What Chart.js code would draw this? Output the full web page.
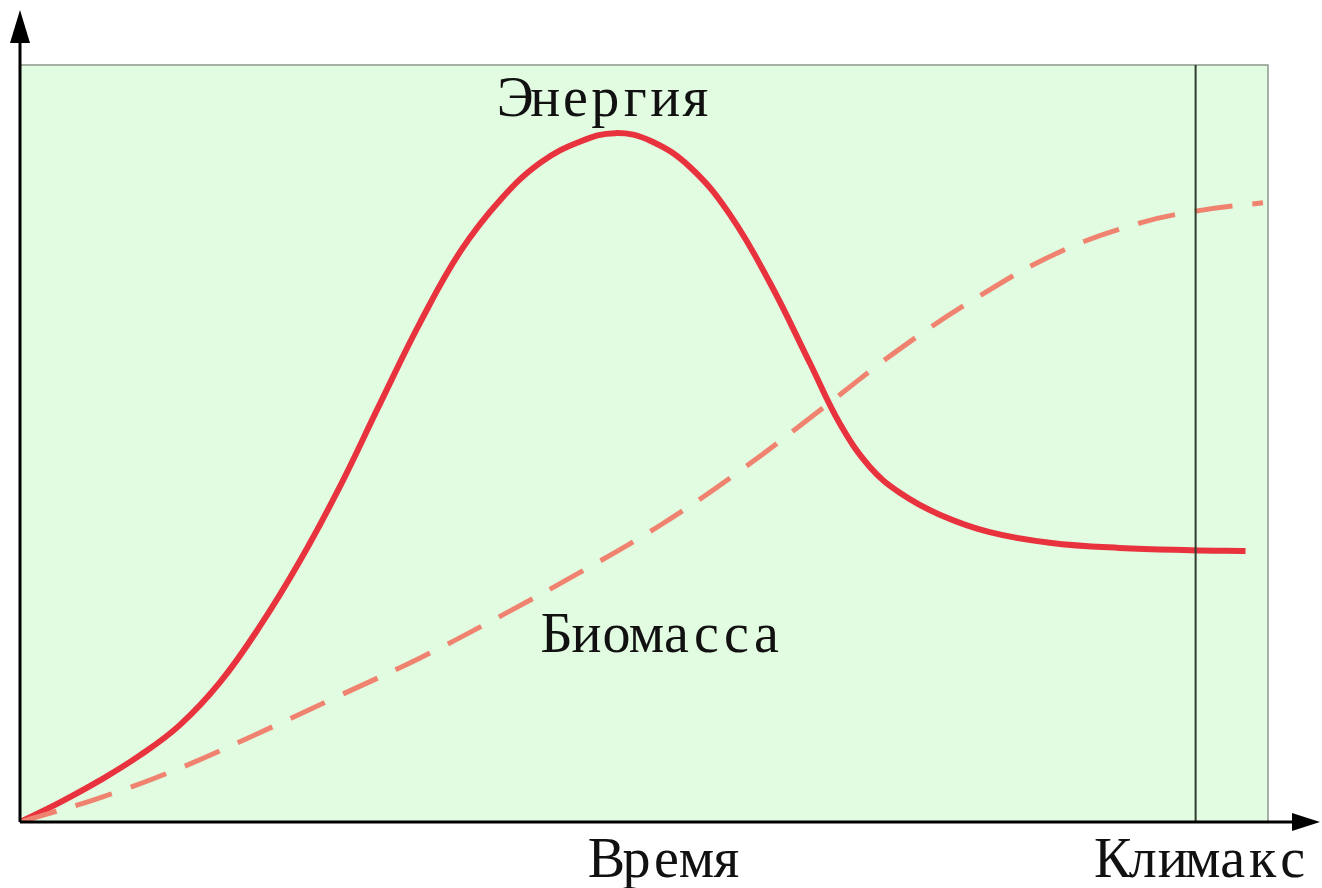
<!DOCTYPE html>
<html lang="ru">
<head>
<meta charset="utf-8">
<title>Энергия и биомасса</title>
<script src="https://cdn.jsdelivr.net/npm/chart.js@4"></script>
<style>
    html, body { margin: 0; padding: 0; background: #ffffff; }
    #wrap { width: 1322px; height: 888px; }
</style>
</head>
<body>
<div id="wrap"><canvas id="successionChart" width="1322" height="888"></canvas></div>
<script>
// Data (time and value both on a 0..100 scale)
const energyTime  = [0, 3.2, 6.4, 9.6, 12.8, 16.0, 19.2, 22.4, 25.6, 28.8, 32.1, 35.3, 38.5, 41.7, 44.9, 47.7,
                     50.5, 53.7, 56.9, 60.1, 63.3, 65.7, 68.1, 70.5, 73.7, 77.7, 82.5, 88.1, 93.8, 98.2];
const energyValue = [0, 2.6, 5.5, 8.8, 12.8, 18.4, 25.8, 34.4, 44.2, 55.1, 66.1, 75.4, 82.2, 87.1, 89.9, 91.0,
                     90.0, 86.5, 80.2, 71.2, 60.6, 52.6, 46.9, 43.5, 40.6, 38.3, 36.9, 36.2, 35.9, 35.8];

const biomassTime  = [0, 6.4, 12.8, 19.2, 25.6, 32.1, 38.5, 44.9, 51.3, 57.7, 64.1, 70.5, 76.9, 83.3, 89.7, 94.6, 99.6];
const biomassValue = [0, 3.2, 7.1, 11.8, 16.7, 21.7, 27.2, 33.0, 39.2, 46.4, 54.4, 62.5, 69.5, 75.3, 79.1, 80.8, 81.8];

// Axis labels and where they sit on the time axis
const climaxTime = 94.2;
const timeLabel = 'Время';
const timeLabelAt = 51.8;
const climaxLabel = 'Климакс';

// Curve captions: [text, time, value]
const energyCaption  = ['Энергия', 46.9, 93.3];
const biomassCaption = ['Биомасса', 51.4, 22.5];

const labelFont = '56px "Liberation Serif", "DejaVu Serif", serif';
const charCell = 30; // the original lettering is monospaced

function toPoints(xs, ys) {
    return xs.map((x, i) => ({ x: x, y: ys[i] }));
}

// draw text centred on x, one character per fixed-width cell
function monoText(ctx, text, x, y) {
    const chars = Array.from(text);
    const start = x - chars.length * charCell / 2;
    chars.forEach((ch, i) => {
        ctx.fillText(ch, start + charCell * i + charCell / 2, y);
    });
}

function arrowHead(ctx, tipX, tipY, dirX, dirY, len, half) {
    // dir is a unit vector pointing to the tip
    const bx = tipX - dirX * len, by = tipY - dirY * len;
    ctx.beginPath();
    ctx.moveTo(tipX, tipY);
    ctx.lineTo(bx - dirY * half, by + dirX * half);
    ctx.lineTo(bx + dirY * half, by - dirX * half);
    ctx.closePath();
    ctx.fill();
}

// Green field behind the curves
const fieldPlugin = {
    id: 'field',
    beforeDatasetsDraw(chart) {
        const { ctx, chartArea: a } = chart;
        ctx.save();
        ctx.fillStyle = '#e2fce2';
        ctx.fillRect(a.left, a.top, a.right - a.left, a.bottom - a.top);
        ctx.strokeStyle = '#8c968c';
        ctx.lineWidth = 1.5;
        ctx.strokeRect(a.left, a.top, a.right - a.left, a.bottom - a.top);
        ctx.restore();
    }
};

// Arrowed axes, climax line and text
const axesPlugin = {
    id: 'arrowAxes',
    afterDatasetsDraw(chart) {
        const { ctx, chartArea: a, scales } = chart;
        const xs = scales.x, ys = scales.y;
        const x0 = xs.getPixelForValue(0);
        const y0 = ys.getPixelForValue(0);
        ctx.save();

        // climax line
        const cx = xs.getPixelForValue(climaxTime);
        ctx.strokeStyle = '#2f3d2f';
        ctx.lineWidth = 2;
        ctx.beginPath();
        ctx.moveTo(cx, a.top);
        ctx.lineTo(cx, y0);
        ctx.stroke();

        // axes
        ctx.strokeStyle = '#000';
        ctx.fillStyle = '#000';
        ctx.lineWidth = 3;
        const yTip = 10, xTip = chart.width - 2;
        ctx.beginPath();
        ctx.moveTo(x0, y0);
        ctx.lineTo(x0, yTip + 20);
        ctx.moveTo(x0, y0);
        ctx.lineTo(xTip - 20, y0);
        ctx.stroke();
        arrowHead(ctx, x0, yTip, 0, -1, 33, 10);
        arrowHead(ctx, xTip, y0, 1, 0, 28, 9);

        // text
        ctx.font = labelFont;
        ctx.fillStyle = '#111';
        ctx.textAlign = 'center';
        ctx.textBaseline = 'alphabetic';
        monoText(ctx, timeLabel, xs.getPixelForValue(timeLabelAt), y0 + 55);
        monoText(ctx, climaxLabel, cx + 7, y0 + 55);
        [energyCaption, biomassCaption].forEach(c => {
            monoText(ctx, c[0], xs.getPixelForValue(c[1]), ys.getPixelForValue(c[2]));
        });
        ctx.restore();
    }
};

const successionChart = new Chart(document.getElementById('successionChart'), {
    type: 'line',
    data: {
        datasets: [{
            label: 'Биомасса',
            data: toPoints(biomassTime, biomassValue),
            borderColor: '#f0836f',
            borderWidth: 5,
            borderDash: [38, 20],
            pointRadius: 0,
            tension: 0.4,
            fill: false
        }, {
            label: 'Энергия',
            data: toPoints(energyTime, energyValue),
            borderColor: '#e8323e',
            borderWidth: 6,
            pointRadius: 0,
            tension: 0.4,
            fill: false
        }]
    },
    options: {
        responsive: false,
        animation: false,
        layout: { padding: { left: 20, right: 54, top: 65, bottom: 66 } },
        plugins: {
            legend: { display: false },
            tooltip: { enabled: false }
        },
        scales: {
            x: { type: 'linear', min: 0, max: 100, display: false },
            y: { type: 'linear', min: 0, max: 100, display: false }
        }
    },
    plugins: [fieldPlugin, axesPlugin]
});
</script>
</body>
</html>
